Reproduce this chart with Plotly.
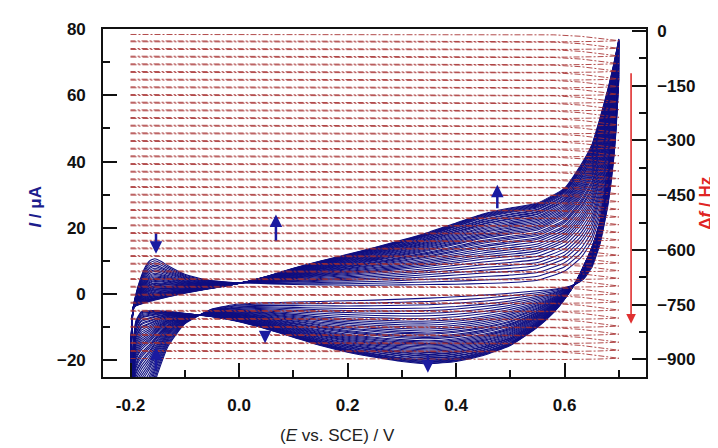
import plotly.graph_objects as go

# ---------------- data ----------------
# potential grid for the forward (anodic) sweep, V vs SCE
E_fwd = [-0.2, -0.198, -0.195, -0.19, -0.185, -0.175, -0.165, -0.155, -0.145, -0.13,
         -0.1, -0.06, -0.02, 0.02, 0.06, 0.1, 0.15, 0.2, 0.25, 0.3,
         0.35, 0.4, 0.45, 0.5, 0.55, 0.6, 0.63, 0.65, 0.665, 0.68, 0.69, 0.7]
# current of the first cycle on the forward sweep, µA
I_fwd_first = [-45, -15, -4, 0, 3, 7.5, 10, 10.7, 10, 8.5,
               6, 4.3, 3.6, 3.4, 3.1, 2.9, 2.8, 2.7, 2.7, 2.8,
               2.9, 3.0, 3.2, 3.5, 4.2, 7, 11, 16, 24, 38, 50, 65]
# current of the last cycle on the forward sweep, µA
I_fwd_last = [-30, -10, -4.5, -3.5, -3.2, -2.7, -2.2, -1.8, -1.4, -0.8,
              0.3, 1.5, 2.6, 4.0, 5.8, 7.8, 10.0, 12.0, 14.1, 16.3,
              18.7, 21.5, 24.2, 26, 27.5, 32, 39, 45, 53, 62, 69, 77]

# potential grid for the reverse (cathodic) sweep
E_rev = [0.7, 0.695, 0.69, 0.68, 0.665, 0.65, 0.635, 0.62, 0.6, 0.58,
         0.55, 0.5, 0.45, 0.4, 0.35, 0.3, 0.25, 0.2, 0.15, 0.1,
         0.05, 0.0, -0.05, -0.1, -0.13, -0.15, -0.165, -0.18, -0.19, -0.195, -0.2]
I_rev_first = [65, 50, 40, 27, 15, 8, 4.5, 3, 2, 1.5,
               1, 0.3, -0.3, -0.8, -1.2, -1.5, -1.8, -2.0, -2.2, -2.4,
               -2.6, -3.0, -4.5, -9, -15.5, -24, -32, -38, -42, -44, -45]
I_rev_last = [77, 62, 52, 38, 22, 14, 8.5, 3.5, -1.5, -5.5,
              -10, -15.5, -18.5, -20.3, -21, -20.3, -19, -17.5, -15.5, -13,
              -10.5, -8.3, -6.8, -5.8, -5.2, -5, -5, -5.3, -8, -15, -30]

# progress of each cycle between the first and the last voltammogram
cycle_progress = [0.00, 0.05, 0.10, 0.15, 0.19, 0.23, 0.27, 0.31, 0.35, 0.38,
                  0.41, 0.44, 0.47, 0.50, 0.53, 0.55, 0.58, 0.60, 0.62, 0.65,
                  0.67, 0.69, 0.71, 0.73, 0.75, 0.77, 0.79, 0.81, 0.83, 0.85,
                  0.86, 0.88, 0.89, 0.91, 0.92, 0.94, 0.95, 0.96, 0.97, 0.98,
                  0.99, 1.00]

# frequency level at the start of each cycle, Hz (one extra for the end of the last)
df_levels = [-10, -30, -51, -72, -93, -114, -135, -156, -177, -198,
             -219, -240, -261, -282, -303, -324, -345, -366, -387, -408,
             -429, -450, -471, -492, -513, -534, -555, -576, -597, -618,
             -639, -660, -681, -702, -724, -746, -768, -790, -812, -834,
             -856, -878, -900]
# fraction of the per-cycle frequency step reached along each sweep
df_E_fwd = [-0.2, 0.5, 0.58, 0.63, 0.67, 0.7]
df_frac_fwd = [0.0, 0.0, 0.05, 0.25, 0.55, 0.85]
df_E_rev = [0.7, 0.66, 0.6, 0.3, -0.2]
df_frac_rev = [0.85, 0.95, 1.0, 0.93, 0.88]

x_ticks = [-0.2, 0.0, 0.2, 0.4, 0.6]
y_ticks = [-20, 0, 20, 40, 60, 80]
y2_ticks = [0, -150, -300, -450, -600, -750, -900]

# ---------------- figure ----------------
BLUE = "#0f0f80"
RED_LINE = "rgba(165,45,45,0.85)"
FONT = "Arial, Liberation Sans, sans-serif"

fig = go.Figure()

for w in cycle_progress:
    i_f = [a + w * (b - a) for a, b in zip(I_fwd_first, I_fwd_last)]
    i_r = [a + w * (b - a) for a, b in zip(I_rev_first, I_rev_last)]
    fig.add_trace(go.Scatter(
        x=E_fwd + E_rev, y=i_f + i_r, mode="lines",
        line=dict(color=BLUE, width=1.05, shape="spline", smoothing=0.5),
        hoverinfo="skip", showlegend=False, yaxis="y"))

for n in range(len(cycle_progress)):
    f0, f1 = df_levels[n], df_levels[n + 1]
    yf = [f0 + fr * (f1 - f0) for fr in df_frac_fwd]
    yr = [f0 + fr * (f1 - f0) for fr in df_frac_rev]
    fig.add_trace(go.Scatter(
        x=df_E_fwd + df_E_rev, y=yf + yr, mode="lines",
        line=dict(color=RED_LINE, width=1, dash="6px,2px,2px,2px"),
        hoverinfo="skip", showlegend=False, yaxis="y2"))

tickfont = dict(family=FONT, size=17, color="#111111", weight="bold")
axis_common = dict(showline=True, linecolor="#111111", linewidth=1.6,
                   ticks="inside", ticklen=14, tickwidth=1.6, tickcolor="#111111",
                   showgrid=False, zeroline=False, tickfont=tickfont)

# the page body adds an 8 px offset, so the figure is 8 px smaller and margins shifted
fig.update_layout(
    width=710, height=440,
    margin=dict(l=95, r=72, t=15, b=71),
    paper_bgcolor="white", plot_bgcolor="white",
    xaxis=dict(range=[-0.2507, 0.75], tickvals=x_ticks,
               ticktext=[f"{v:.1f}" for v in x_ticks], mirror=True,
               minor=dict(dtick=0.1, tick0=0, ticks="inside", ticklen=7, tickwidth=1.6,
                          tickcolor="#111111"),
               ticklabelstandoff=12, **axis_common),
    yaxis=dict(range=[-25, 80], tickvals=y_ticks, mirror=True,
               minor=dict(dtick=10, tick0=0, ticks="inside", ticklen=7, tickwidth=1.6,
                          tickcolor="#111111"),
               ticklabelstandoff=12, **axis_common),
    yaxis2=dict(range=[-948, 5], tickvals=y2_ticks, overlaying="y", side="right",
                minor=dict(dtick=75, tick0=0, ticks="inside", ticklen=7, tickwidth=1.6,
                           tickcolor="#111111"),
                ticklabelstandoff=6, **axis_common),
    font=dict(family=FONT),
)

annotations = [
    dict(text="(<i>E</i> vs. SCE) / V", x=0.431, y=-0.169, xref="paper", yref="paper",
         showarrow=False, font=dict(family=FONT, size=17, color="#222222"),
         xanchor="center", yanchor="middle"),
    dict(text="<b><i>I</i> / μA</b>", x=-0.125, y=0.49, xref="paper", yref="paper",
         showarrow=False, textangle=-90, font=dict(family=FONT, size=17, color="#1c1c8c"),
         xanchor="center", yanchor="middle"),
    dict(text="<b>Δ<i>f</i> / Hz</b>", x=1.108, y=0.50, xref="paper", yref="paper",
         showarrow=False, textangle=-90, font=dict(family=FONT, size=17, color="#e02424"),
         xanchor="center", yanchor="middle"),
]
# blue trend arrows: (tip E, tip I, tail E, tail I)
blue_arrows = [(-0.153, 12.2, -0.153, 18.7), (-0.153, -16, -0.153, -23.4),
               (0.068, 24, 0.068, 15.7), (0.048, -14.8, 0.048, -11.6),
               (0.476, 33, 0.476, 25.5), (0.348, -23.7, 0.348, -17.8)]
for tx, ty, ax_, ay_ in blue_arrows:
    annotations.append(dict(x=tx, y=ty, ax=ax_, ay=ay_, xref="x", yref="y",
                            axref="x", ayref="y", showarrow=True, arrowhead=2,
                            arrowsize=1, arrowwidth=2.5, arrowcolor="#1a1aa0", text=""))
annotations.append(dict(x=0.7225, y=-8.9, ax=0.7225, ay=67.1, xref="x", yref="y",
                        axref="x", ayref="y", showarrow=True, arrowhead=2, arrowsize=1.2,
                        arrowwidth=1.6, arrowcolor="#e03030", text=""))
fig.update_layout(annotations=annotations)

fig.write_html("out.html")
